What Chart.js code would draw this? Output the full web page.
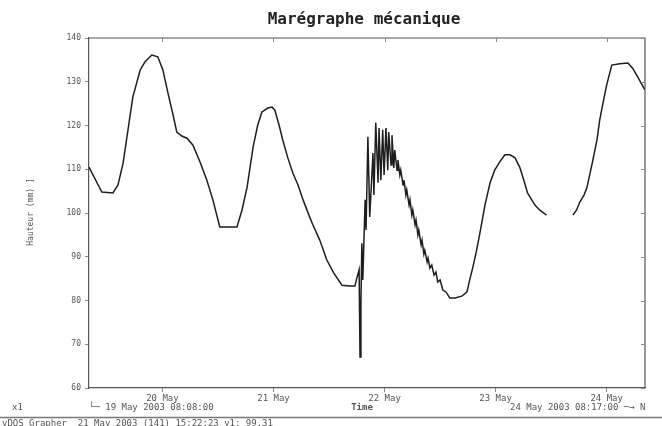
<!DOCTYPE html>
<html>
<head>
<meta charset="utf-8">
<script src="https://cdn.jsdelivr.net/npm/chart.js@4/dist/chart.umd.min.js"></script>
<style>
html,body{margin:0;padding:0;background:#fff;}
#wrap{width:662px;height:426px;position:relative;}
</style>
</head>
<body>
<div id="wrap"><canvas id="c" width="662" height="426"></canvas></div>
<script>
// Hours since 19 May 2003 00:00
const hours = [8.13,10.9,13.3,14.4,15.5,17.6,19.2,20.2,21.7,23.0,24.1,25.2,26.3,27.1,28.2,29.3,30.6,32.1,33.6,34.9,36.4,38.2,40.1,41.2,42.3,43.6,44.6,45.5,46.8,47.7,48.3,49.2,50.0,51.1,52.2,53.3,54.4,55.4,56.5,58.0,59.5,61.0,62.8,64.5,65.6,66.0,66.5,66.7,66.9,67.1,67.3,67.8,68.0,68.4,68.8,69.5,69.7,70.1,70.6,70.8,71.2,71.6,71.9,72.3,72.7,72.9,73.4,73.6,74.0,74.2,74.7,74.9,75.3,75.5,76.0,76.2,76.6,76.8,77.3,77.5,77.9,78.1,78.6,78.8,79.2,79.4,79.9,80.1,80.5,80.7,81.2,81.4,81.8,82.2,82.7,83.1,83.5,84.0,84.6,85.3,86.1,87.2,88.7,89.8,90.4,91.1,91.9,92.6,93.7,94.8,95.8,96.9,98.0,99.1,100.2,101.2,102.1,102.9,103.8,104.5,105.5,107.0,110.0,112.7,113.5,114.2,115.1,115.7,116.8,117.9,118.5,119.2,120.0,121.1,122.8,124.6,125.6,126.7,128.28];
// Water height
const heights = [110.5,104.8,104.6,106.4,111.4,126.5,132.7,134.5,136.1,135.7,132.7,127.4,122.4,118.5,117.6,117.1,115.5,111.7,107.5,103.0,96.8,96.8,96.8,100.7,105.9,115.1,120.1,123.1,124.0,124.2,123.5,120.1,116.7,112.6,109.1,106.4,103.0,100.2,97.3,93.8,89.3,86.3,83.5,83.3,83.3,85.1,87.0,67.1,80.1,93.1,84.7,103.0,96.1,117.4,99.1,113.7,104.1,120.6,106.9,119.4,107.5,119.0,108.7,119.4,109.8,118.5,111.0,117.8,110.3,114.4,109.8,112.1,108.7,109.8,106.4,107.5,104.1,105.3,101.8,103.0,99.5,100.7,97.3,98.4,95.0,96.1,92.7,93.8,90.6,91.5,88.8,89.7,87.4,88.1,85.8,86.5,84.2,84.7,82.4,81.9,80.6,80.6,81.0,81.9,84.7,87.7,91.5,95.4,101.8,106.9,109.8,111.7,113.3,113.3,112.6,110.5,107.5,104.6,103.0,101.8,100.7,99.5,null,99.5,100.7,102.5,104.1,105.7,111.0,116.7,121.3,125.1,129.3,133.8,134.1,134.3,133.1,131.1,128.1];
const dayTicks = [24,48,72,96,120];
const dayLabels = ["20 May","21 May","22 May","23 May","24 May"];
const yTicks = [60,70,80,90,100,110,120,130,140];

const MONO = '"DejaVu Sans Mono", "Liberation Mono", monospace';
const points = hours.map((h,i)=>({x:h,y:heights[i]}));

const extras = {
  id:'extras',
  afterDraw(chart){
    const ctx = chart.ctx, a = chart.chartArea;
    const xs = chart.scales.x, ys = chart.scales.y;
    ctx.save();
    // frame top and right
    ctx.strokeStyle = '#555'; ctx.lineWidth = 1.2;
    ctx.beginPath();
    ctx.moveTo(a.left, a.top); ctx.lineTo(a.right, a.top); ctx.lineTo(a.right, a.bottom);
    ctx.stroke();
    ctx.strokeStyle = '#888'; ctx.lineWidth = 1;
    ctx.beginPath();
    dayTicks.forEach(v=>{const x=Math.round(xs.getPixelForValue(v))+0.5; ctx.moveTo(x,a.top); ctx.lineTo(x,a.top+4);});
    yTicks.forEach(v=>{const y=Math.round(ys.getPixelForValue(v))+0.5; ctx.moveTo(a.right,y); ctx.lineTo(a.right-4,y);});
    ctx.stroke();
    // title
    ctx.fillStyle = '#222';
    ctx.font = 'bold 16px ' + MONO;
    ctx.textAlign = 'center'; ctx.textBaseline = 'middle';
    ctx.fillText('Marégraphe mécanique', 364, 20);
    // y title
    ctx.save();
    ctx.translate(31, 212);
    ctx.rotate(-Math.PI/2);
    ctx.fillStyle = '#555';
    ctx.font = '8px ' + MONO;
    ctx.fillText('Hauteur (mm) ]', 0, 0);
    ctx.restore();
    // bottom texts
    ctx.fillStyle = '#555';
    ctx.font = '9px ' + MONO;
    ctx.textAlign = 'left';
    ctx.fillText('x1', 12, 408);
    ctx.fillText('\u2514\u2500 19 May 2003 08:08:00', 89, 408);
    ctx.fillText('24 May 2003 08:17:00 \u2500\u2192 N', 510, 408);
    ctx.font = 'bold 9px ' + MONO;
    ctx.textAlign = 'center';
    ctx.fillText('Time', 362, 408);
    ctx.strokeStyle = '#777'; ctx.lineWidth = 1.5;
    ctx.beginPath(); ctx.moveTo(0, 417.5); ctx.lineTo(662, 417.5); ctx.stroke();
    ctx.font = '9px ' + MONO;
    ctx.textAlign = 'left';
    ctx.fillText('vDOS Grapher  21 May 2003 (141) 15:22:23 v1: 99.31', 2, 424);
    ctx.restore();
  }
};

new Chart(document.getElementById('c'), {
  type:'line',
  data:{datasets:[{data:points, borderColor:'#1e1e1e', borderWidth:1.5, pointRadius:0, tension:0, spanGaps:false, fill:false}]},
  options:{
    responsive:false, animation:false,
    layout:{padding:{left:0,right:17,top:38,bottom:0}},
    plugins:{legend:{display:false}, tooltip:{enabled:false}, title:{display:false}},
    scales:{
      x:{type:'linear', min:8.133, max:128.28,
        afterBuildTicks(s){ s.ticks = dayTicks.map(v=>({value:v})); },
        afterFit(s){ s.height = 38; },
        ticks:{color:'#555', font:{family:MONO, size:9}, padding:1, maxRotation:0, autoSkip:false,
          callback:(v)=>{const i=dayTicks.indexOf(v); return i>=0?dayLabels[i]:'';}},
        grid:{drawOnChartArea:false, drawTicks:true, tickLength:4, color:'#888'},
        border:{display:true, color:'#555', width:1.2}
      },
      y:{type:'linear', min:60, max:140,
        afterBuildTicks(s){ s.ticks = yTicks.map(v=>({value:v})); },
        afterFit(s){ s.width = 89; },
        ticks:{color:'#555', font:{family:MONO, size:8}, padding:4},
        grid:{drawOnChartArea:false, drawTicks:true, tickLength:4, color:'#888'},
        border:{display:true, color:'#555', width:1.2}
      }
    }
  },
  plugins:[extras]
});
</script>
</body>
</html>
